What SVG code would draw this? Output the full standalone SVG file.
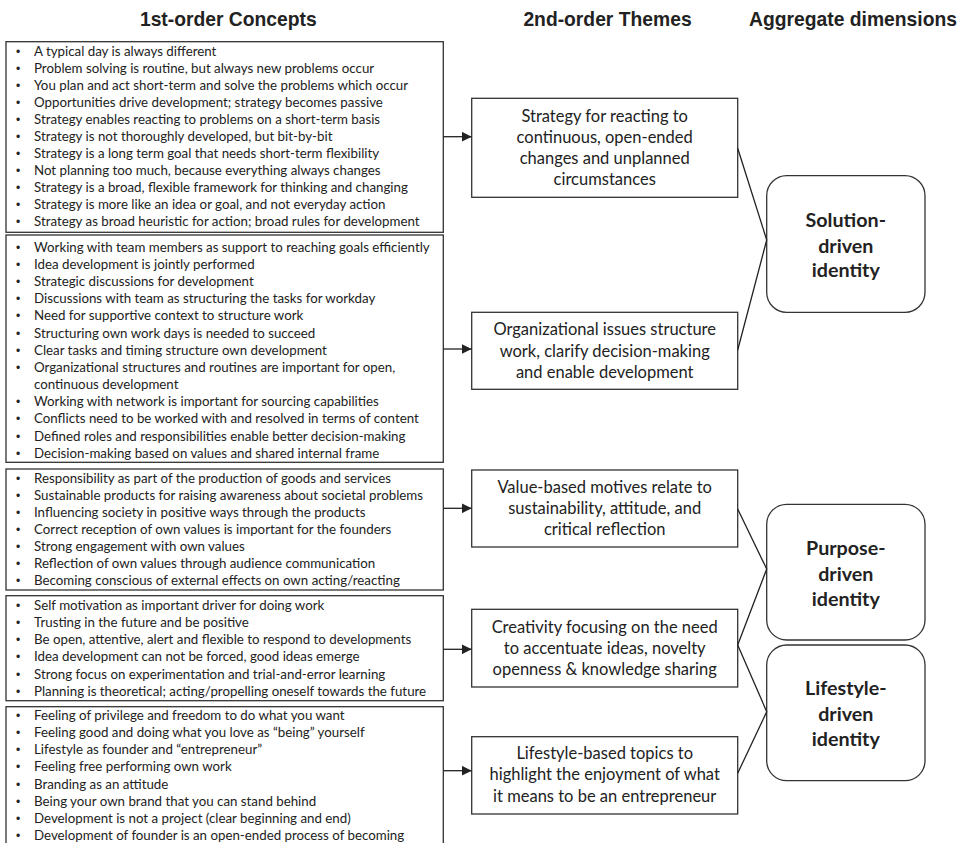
<svg xmlns="http://www.w3.org/2000/svg" width="959" height="843" viewBox="0 0 959 843">
<defs>
<style>
.hdr{font-family:"Liberation Sans",Arial,sans-serif;font-weight:bold;font-size:19.3px;fill:#222;text-anchor:middle}
.box{fill:#fff;stroke:#333;stroke-width:1.3}
.lst{font-family:Lato,"Noto Sans",sans-serif;font-size:13.3px;fill:#222}
.bul{font-family:"Liberation Sans",sans-serif;font-size:12px;fill:#222;text-anchor:middle}
.mid{font-family:Lato,"Noto Sans",sans-serif;font-size:16.5px;fill:#222;text-anchor:middle}
.agg{font-family:Lato,"Noto Sans",sans-serif;font-size:19.7px;font-weight:bold;fill:#222;text-anchor:middle}
.con{stroke:#222;stroke-width:1.3;fill:none}
</style>
<marker id="ah" viewBox="0 0 10 10" refX="10" refY="5" markerWidth="10" markerHeight="10" markerUnits="userSpaceOnUse" orient="auto">
<path d="M0,0 L10,5 L0,10 Z" fill="#222"/>
</marker>
</defs>
<rect width="959" height="843" fill="#fff"/>
<g id="headers">
<text class="hdr" x="228.3" y="26">1st-order Concepts</text>
<text class="hdr" x="607.5" y="26">2nd-order Themes</text>
<text class="hdr" x="853" y="26">Aggregate dimensions</text>
</g>
<g id="concepts1">
<rect class="box" x="6" y="41.7" width="437.3" height="190.6"/>
<g class="bul">
<text x="18" y="55.7">•</text><text x="18" y="72.8">•</text><text x="18" y="89.8">•</text><text x="18" y="106.9">•</text><text x="18" y="123.9">•</text><text x="18" y="141">•</text><text x="18" y="158.1">•</text><text x="18" y="175.1">•</text><text x="18" y="192.2">•</text><text x="18" y="209.2">•</text><text x="18" y="226.3">•</text>
</g>
<g class="lst">
<text x="34" y="55.7">A typical day is always different</text>
<text x="34" y="72.8">Problem solving is routine, but always new problems occur</text>
<text x="34" y="89.8">You plan and act short-term and solve the problems which occur</text>
<text x="34" y="106.9">Opportunities drive development; strategy becomes passive</text>
<text x="34" y="123.9">Strategy enables reacting to problems on a short-term basis</text>
<text x="34" y="141">Strategy is not thoroughly developed, but bit-by-bit</text>
<text x="34" y="158.1">Strategy is a long term goal that needs short-term flexibility</text>
<text x="34" y="175.1">Not planning too much, because everything always changes</text>
<text x="34" y="192.2">Strategy is a broad, flexible framework for thinking and changing</text>
<text x="34" y="209.2">Strategy is more like an idea or goal, and not everyday action</text>
<text x="34" y="226.3">Strategy as broad heuristic for action; broad rules for development</text>
</g>
</g>
<g id="concepts2">
<rect class="box" x="6" y="235" width="437.3" height="227.3"/>
<g class="bul">
<text x="18" y="251.7">•</text><text x="18" y="268.9">•</text><text x="18" y="286">•</text><text x="18" y="303.2">•</text><text x="18" y="320.4">•</text><text x="18" y="337.5">•</text><text x="18" y="354.7">•</text><text x="18" y="371.9">•</text><text x="18" y="406.2">•</text><text x="18" y="423.4">•</text><text x="18" y="440.5">•</text><text x="18" y="457.7">•</text>
</g>
<g class="lst">
<text x="34" y="251.7">Working with team members as support to reaching goals efficiently</text>
<text x="34" y="268.9">Idea development is jointly performed</text>
<text x="34" y="286">Strategic discussions for development</text>
<text x="34" y="303.2">Discussions with team as structuring the tasks for workday</text>
<text x="34" y="320.4">Need for supportive context to structure work</text>
<text x="34" y="337.5">Structuring own work days is needed to succeed</text>
<text x="34" y="354.7">Clear tasks and timing structure own development</text>
<text x="34" y="371.9">Organizational structures and routines are important for open,</text>
<text x="34" y="389">continuous development</text>
<text x="34" y="406.2">Working with network is important for sourcing capabilities</text>
<text x="34" y="423.4">Conflicts need to be worked with and resolved in terms of content</text>
<text x="34" y="440.5">Defined roles and responsibilities enable better decision-making</text>
<text x="34" y="457.7">Decision-making based on values and shared internal frame</text>
</g>
</g>
<g id="concepts3">
<rect class="box" x="6" y="469" width="437.3" height="121"/>
<g class="bul">
<text x="18" y="482.7">•</text><text x="18" y="499.8">•</text><text x="18" y="516.8">•</text><text x="18" y="533.9">•</text><text x="18" y="550.9">•</text><text x="18" y="568">•</text><text x="18" y="585">•</text>
</g>
<g class="lst">
<text x="34" y="482.7">Responsibility as part of the production of goods and services</text>
<text x="34" y="499.8">Sustainable products for raising awareness about societal problems</text>
<text x="34" y="516.8">Influencing society in positive ways through the products</text>
<text x="34" y="533.9">Correct reception of own values is important for the founders</text>
<text x="34" y="550.9">Strong engagement with own values</text>
<text x="34" y="568">Reflection of own values through audience communication</text>
<text x="34" y="585">Becoming conscious of external effects on own acting/reacting</text>
</g>
</g>
<g id="concepts4">
<rect class="box" x="6" y="595.7" width="437.3" height="105"/>
<g class="bul">
<text x="18" y="610">•</text><text x="18" y="627.1">•</text><text x="18" y="644.3">•</text><text x="18" y="661.4">•</text><text x="18" y="678.6">•</text><text x="18" y="695.7">•</text>
</g>
<g class="lst">
<text x="34" y="610">Self motivation as important driver for doing work</text>
<text x="34" y="627.1">Trusting in the future and be positive</text>
<text x="34" y="644.3">Be open, attentive, alert and flexible to respond to developments</text>
<text x="34" y="661.4">Idea development can not be forced, good ideas emerge</text>
<text x="34" y="678.6">Strong focus on experimentation and trial-and-error learning</text>
<text x="34" y="695.7">Planning is theoretical; acting/propelling oneself towards the future</text>
</g>
</g>
<g id="concepts5">
<rect class="box" x="6" y="706.7" width="437.3" height="145"/>
<g class="bul">
<text x="18" y="720">•</text><text x="18" y="737.1">•</text><text x="18" y="754.3">•</text><text x="18" y="771.4">•</text><text x="18" y="788.6">•</text><text x="18" y="805.7">•</text><text x="18" y="822.8">•</text><text x="18" y="840">•</text>
</g>
<g class="lst">
<text x="34" y="720">Feeling of privilege and freedom to do what you want</text>
<text x="34" y="737.1">Feeling good and doing what you love as “being” yourself</text>
<text x="34" y="754.3">Lifestyle as founder and “entrepreneur”</text>
<text x="34" y="771.4">Feeling free performing own work</text>
<text x="34" y="788.6">Branding as an attitude</text>
<text x="34" y="805.7">Being your own brand that you can stand behind</text>
<text x="34" y="822.8">Development is not a project (clear beginning and end)</text>
<text x="34" y="840">Development of founder is an open-ended process of becoming</text>
</g>
</g>
<g id="theme1">
<rect class="box" x="471.7" y="98.3" width="266" height="99"/>
<text class="mid" x="604.7" y="121.5">Strategy for reacting to</text>
<text class="mid" x="604.7" y="142.6">continuous, open-ended</text>
<text class="mid" x="604.7" y="164.1">changes and unplanned</text>
<text class="mid" x="604.7" y="185.2">circumstances</text>
</g>
<g id="theme2">
<rect class="box" x="471.7" y="312.3" width="266" height="77"/>
<text class="mid" x="604.7" y="335.1">Organizational issues structure</text>
<text class="mid" x="604.7" y="356.5">work, clarify decision-making</text>
<text class="mid" x="604.7" y="377.5">and enable development</text>
</g>
<g id="theme3">
<rect class="box" x="471.7" y="470" width="266" height="77"/>
<text class="mid" x="604.7" y="492.5">Value-based motives relate to</text>
<text class="mid" x="604.7" y="514.1">sustainability, attitude, and</text>
<text class="mid" x="604.7" y="535.1">critical reflection</text>
</g>
<g id="theme4">
<rect class="box" x="471.7" y="609.3" width="266" height="77.7"/>
<text class="mid" x="604.7" y="632.5">Creativity focusing on the need</text>
<text class="mid" x="604.7" y="653.5">to accentuate ideas, novelty</text>
<text class="mid" x="604.7" y="675.1">openness &amp; knowledge sharing</text>
</g>
<g id="theme5">
<rect class="box" x="471.7" y="736.7" width="266" height="77.3"/>
<text class="mid" x="604.7" y="759.1">Lifestyle-based topics to</text>
<text class="mid" x="604.7" y="780.1">highlight the enjoyment of what</text>
<text class="mid" x="604.7" y="801.8">it means to be an entrepreneur</text>
</g>
<g id="dim-solution">
<rect class="box" x="766.7" y="175.7" width="158.3" height="136.6" rx="20" ry="20"/>
<text class="agg" x="845.8" y="227">Solution-</text>
<text class="agg" x="845.8" y="252.7">driven</text>
<text class="agg" x="845.8" y="277">identity</text>
</g>
<g id="dim-purpose">
<rect class="box" x="766.7" y="504.3" width="158.3" height="135.7" rx="20" ry="20"/>
<text class="agg" x="845.8" y="554.7">Purpose-</text>
<text class="agg" x="845.8" y="581.3">driven</text>
<text class="agg" x="845.8" y="606.3">identity</text>
</g>
<g id="dim-lifestyle">
<rect class="box" x="766.7" y="645" width="158.3" height="135.7" rx="20" ry="20"/>
<text class="agg" x="845.8" y="695.3">Lifestyle-</text>
<text class="agg" x="845.8" y="721.3">driven</text>
<text class="agg" x="845.8" y="746">identity</text>
</g>
<g id="connectors">
<line class="con" x1="443.3" y1="136.7" x2="471.7" y2="136.7" marker-end="url(#ah)"/>
<line class="con" x1="443.3" y1="349" x2="471.7" y2="349" marker-end="url(#ah)"/>
<line class="con" x1="443.3" y1="508.3" x2="471.7" y2="508.3" marker-end="url(#ah)"/>
<line class="con" x1="443.3" y1="649.3" x2="471.7" y2="649.3" marker-end="url(#ah)"/>
<line class="con" x1="443.3" y1="770.7" x2="471.7" y2="770.7" marker-end="url(#ah)"/>
<polyline class="con" points="737.7,148.3 766.7,240 737.7,350"/>
<polyline class="con" points="737.7,509 766.7,569 737.7,645 766.7,711.7 737.7,773.3"/>
</g>
</svg>
